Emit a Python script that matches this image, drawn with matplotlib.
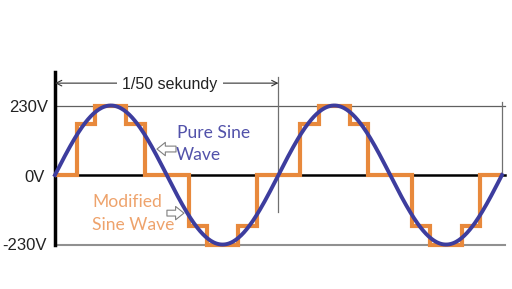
import numpy as np
import matplotlib
matplotlib.use("Agg")
import matplotlib.pyplot as plt

plt.rcParams['font.family'] = ['Liberation Sans', 'DejaVu Sans']

# data
period_ms = 20
peak_v = 230
step_v = 168
cycles = 2
# one period of the modified sine wave (ms edges and volt levels)
mod_edges = [0, 1.95, 3.6, 6.4, 8.05, 11.95, 13.6, 16.4, 18.05, 20]
mod_levels = [0, step_v, peak_v, step_v, 0, -step_v, -peak_v, -step_v, 0]
volt_ticks = [peak_v, 0, -peak_v]
volt_labels = ['230V', '0V', '-230V']

blue = '#3d3d9e'
orange = '#e8893c'

fig = plt.figure(figsize=(5.12, 2.89), dpi=100)
ax = fig.add_axes([0, 0, 1, 1])
ax.set_xlim(-4.92, 40.9)
ax.set_ylim(-377, 579)
ax.axis('off')

# reference lines
end_t = cycles * period_ms
ax.plot([0, end_t + 0.3], [peak_v, peak_v], color='#606060', lw=0.9)
ax.plot([0, end_t + 0.3], [-peak_v, -peak_v], color='#909090', lw=1.5)
ax.plot([0, end_t + 0.3], [0, 0], color='black', lw=1.8)
ax.plot([0, 0], [-232, 341], color='black', lw=2.5)
ax.plot([period_ms, period_ms], [-122, 324], color='#707070', lw=0.9)
ax.plot([end_t, end_t], [0, 241], color='#707070', lw=0.9)

# modified sine (steps)
edges = []
levels = []
for c in range(cycles):
    e = [x + c * period_ms for x in mod_edges]
    edges += e if c == 0 else e[1:]
    levels += mod_levels
ax.stairs(levels, edges, baseline=None, color=orange, lw=3, zorder=3)

# pure sine
t = np.linspace(0, end_t, 500)
ax.plot(t, peak_v * np.sin(2 * np.pi * t / period_ms), color=blue, lw=2.8, zorder=4)

# y labels
for v, lab, xr, yb in zip(volt_ticks, volt_labels, [-0.63, -0.9, -0.72], [208, -23, -248]):
    ax.text(xr, yb, lab, ha='right', va='baseline', fontsize=12, color='#222222')

# 1/50 second span
ax.annotate('', xy=(0, 304), xytext=(period_ms, 304),
            arrowprops=dict(arrowstyle='<->', color='#333333', lw=0.8,
                            shrinkA=0, shrinkB=0, mutation_scale=10))
ax.text(10.3, 285, '1/50 sekundy', ha='center', va='baseline', fontsize=11.5,
        color='#222222', bbox=dict(fc='white', ec='none', pad=4))

# wave labels
lab_font = ['Lato', 'DejaVu Sans']
ax.text(10.92, 122, 'Pure Sine', ha='left', va='baseline', fontsize=12.6,
        color='#5252aa', family=lab_font)
ax.text(10.83, 50, 'Wave', ha='left', va='baseline', fontsize=12.6,
        color='#5252aa', family=lab_font)
ax.text(3.31, -106, 'Modified', ha='left', va='baseline', fontsize=12.6,
        color='#eea36c', family=lab_font)
ax.text(3.31, -182, 'Sine Wave', ha='left', va='baseline', fontsize=12.6,
        color='#eea36c', family=lab_font)

hollow = dict(arrowstyle='simple,head_length=0.5,head_width=0.8,tail_width=0.35',
              fc='white', ec='#808080', lw=0.8, shrinkA=0, shrinkB=0, mutation_scale=12)
ax.annotate('', xy=(9.13, 86), xytext=(10.83, 86), arrowprops=hollow)
ax.annotate('', xy=(11.54, -126), xytext=(10.02, -126), arrowprops=hollow)

fig.savefig('out.png', dpi=100)
